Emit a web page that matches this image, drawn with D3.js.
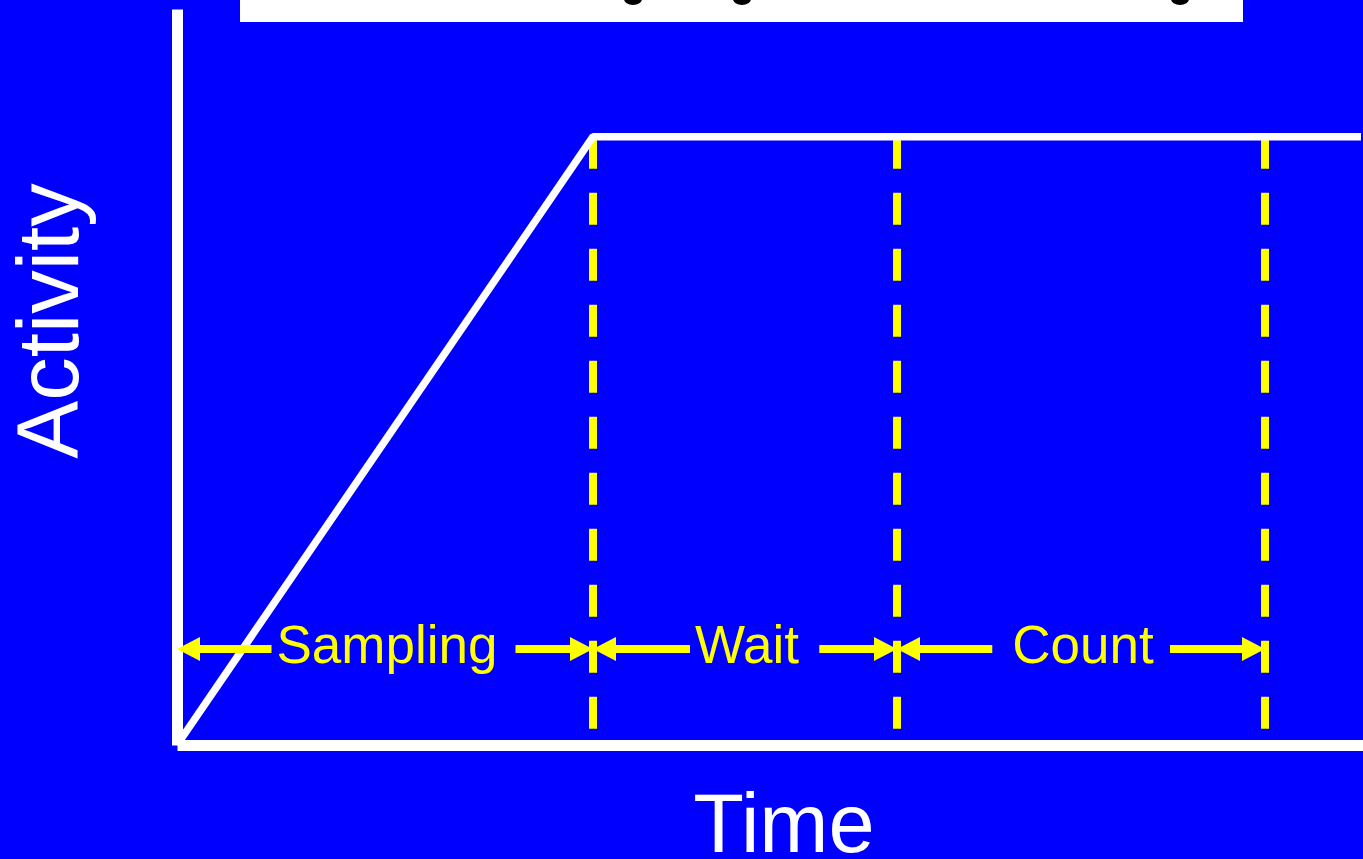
<!DOCTYPE html>
<html>
<head>
<meta charset="utf-8">
<script src="https://cdn.jsdelivr.net/npm/d3@7/dist/d3.min.js"></script>
<style>
  html, body { margin: 0; padding: 0; background: #0000ff; overflow: hidden; }
  svg { display: block; }
  text { font-family: "Liberation Sans", Arial, Helvetica, sans-serif; }
</style>
</head>
<body>
<script>
// ---- data ----
const timeDomain = [0, 29.65];          // time axis extent
const activityDomain = [0, 1.21];       // activity axis extent
const activityTimes = [0, 10.4, 29.6];  // activity curve: time points
const activityValues = [0, 1, 1];       // activity curve: values
const phaseLabels = ["Sampling", "Wait", "Count"];
const phaseStarts = [0, 10.4, 18.0];
const phaseEnds = [10.4, 18.0, 27.2];
const markerTimes = [10.4, 18.0, 27.2]; // dashed yellow markers
const arrowLevel = 0.158;               // activity level of the phase arrows
const labelGapLeft = [5, 5, 20];
const labelGapRight = [18, 20, 16];
const xLabel = "Time";
const yLabel = "Activity";

// ---- layout ----
const W = 1363, H = 859;
const svg = d3.select("body").append("svg").attr("width", W).attr("height", H);
svg.append("rect").attr("width", W).attr("height", H).attr("fill", "#0000ff");

const x = d3.scaleLinear().domain(timeDomain).range([177, 1363]);
const y = d3.scaleLinear().domain(activityDomain).range([745, 9]);

// cut-off title box at the top
const titleBox = svg.append("g");
titleBox.append("rect").attr("x", 240).attr("y", -10).attr("width", 1003).attr("height", 32).attr("fill", "#ffffff");
[633, 742, 1180].forEach(cx => {
  titleBox.append("ellipse").attr("cx", cx).attr("cy", -1).attr("rx", 9).attr("ry", 6).attr("fill", "#000000");
});

// axes (no ticks)
const xAxis = svg.append("g").attr("transform", "translate(0,745)")
  .call(d3.axisBottom(x).ticks(0).tickSizeOuter(0));
const yAxis = svg.append("g").attr("transform", "translate(177,0)")
  .call(d3.axisLeft(y).ticks(0).tickSizeOuter(0));
[xAxis, yAxis].forEach(g => {
  g.select(".domain").attr("stroke", "#ffffff").attr("stroke-width", 11).attr("stroke-linecap", "butt");
  g.selectAll(".tick").remove();
});

// dashed markers
svg.append("g").selectAll("line").data(markerTimes).join("line")
  .attr("x1", d => x(d)).attr("x2", d => x(d))
  .attr("y1", y(1)).attr("y2", y(0))
  .attr("stroke", "#ffff00").attr("stroke-width", 8)
  .attr("stroke-dasharray", "32 24");

// activity curve
const pts = activityTimes.map((t, i) => [t, activityValues[i]]);
svg.append("path").datum(pts)
  .attr("d", d3.line().x(d => x(d[0])).y(d => y(d[1])))
  .attr("fill", "none").attr("stroke", "#ffffff").attr("stroke-width", 7.5)
  .attr("stroke-linejoin", "bevel");

// phase arrows with labels
const ay = y(arrowLevel);
const headLen = 23, headHalf = 12;
const arrows = svg.append("g");
phaseLabels.forEach((lab, i) => {
  const x0 = x(phaseStarts[i]), x1 = x(phaseEnds[i]);
  const cx = (x0 + x1) / 2 + 2;
  const t = arrows.append("text").attr("x", cx).attr("y", ay + 14)
    .attr("text-anchor", "middle").attr("fill", "#ffff00")
    .attr("font-size", 53).text(lab);
  const bb = t.node().getBBox();
  const lEnd = bb.x - labelGapLeft[i];
  const rStart = bb.x + bb.width + labelGapRight[i];
  arrows.append("line").attr("x1", x0 + headLen - 1).attr("x2", lEnd)
    .attr("y1", ay).attr("y2", ay).attr("stroke", "#ffff00").attr("stroke-width", 8);
  arrows.append("line").attr("x1", rStart).attr("x2", x1 - headLen + 1)
    .attr("y1", ay).attr("y2", ay).attr("stroke", "#ffff00").attr("stroke-width", 8);
  arrows.append("path")
    .attr("d", `M${x0},${ay}L${x0 + headLen},${ay - headHalf}L${x0 + headLen},${ay + headHalf}Z`)
    .attr("fill", "#ffff00");
  arrows.append("path")
    .attr("d", `M${x1},${ay}L${x1 - headLen},${ay - headHalf}L${x1 - headLen},${ay + headHalf}Z`)
    .attr("fill", "#ffff00");
});

// axis titles
svg.append("text").attr("x", 784).attr("y", 852)
  .attr("text-anchor", "middle").attr("fill", "#ffffff").attr("font-size", 83).text(xLabel);
svg.append("text").attr("transform", "translate(78,321) rotate(-90)")
  .attr("text-anchor", "middle").attr("fill", "#ffffff").attr("font-size", 87).text(yLabel);
</script>
</body>
</html>
